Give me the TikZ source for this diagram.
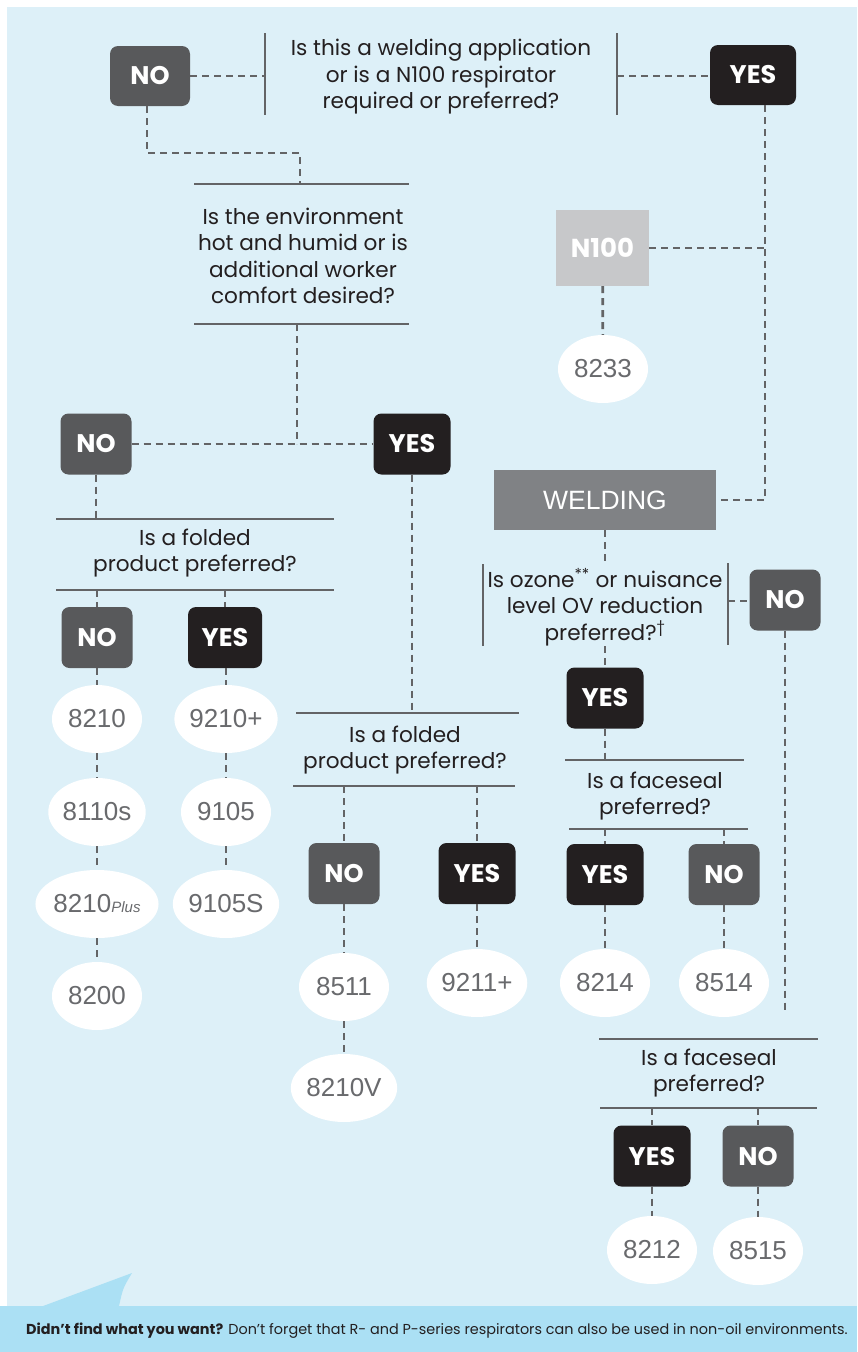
\documentclass[tikz,border=0pt]{standalone}
\usepackage{fontspec}
\setmainfont{Poppins}
\newfontfamily\numfont{Liberation Sans}
\usetikzlibrary{shapes.geometric}
\definecolor{bgblue}{RGB}{221,240,248}
\definecolor{barblue}{RGB}{171,224,244}
\definecolor{nogray}{RGB}{88,89,91}
\definecolor{yesblack}{RGB}{35,31,32}
\definecolor{nlight}{RGB}{199,200,202}
\definecolor{weldgray}{RGB}{128,130,133}
\definecolor{linegray}{RGB}{99,100,102}
\definecolor{numgray}{RGB}{105,106,109}
\tikzset{
  nobox/.style={fill=nogray, rounded corners=8pt, minimum width=71pt, minimum height=61pt,
    text=white, inner sep=0pt, font=\fontsize{25.5}{25.5}\selectfont\bfseries},
  yesbox/.style={nobox, fill=yesblack, minimum width=77pt},
  prod/.style={ellipse, fill=white, minimum width=90pt, minimum height=68pt, inner sep=0pt,
    text=numgray, font=\numfont\fontsize{26}{26}\selectfont},
  qtext/.style={align=center, inner sep=0pt, text=yesblack, font=\fontsize{21.6}{26.5}\selectfont},
  rule/.style={draw=linegray, line width=2.7pt},
  conn/.style={draw=linegray, line width=2.7pt, dash pattern=on 7pt off 5pt}
}
\begin{document}
\begin{tikzpicture}[x=1pt,y=-1pt]
\useasboundingbox (0,0) rectangle (857,1352);
% background
\fill[bgblue] (7,7) rectangle (857,1306);
\fill[barblue] (0,1306) rectangle (857,1352);
\fill[barblue] (0,1322) -- (132,1273) .. controls (123,1288) .. (119,1306) -- (0,1306) -- cycle;

% ---------- top question ----------
\node[qtext] (q1) at (441,77) {Is this a welding application\\or is a N100 respirator\\required or preferred?};
\draw[rule] (265,33) -- (265,115);
\draw[rule] (617,33) -- (617,115);
\coordinate (q1L) at (265,76);
\coordinate (q1R) at (617,76);
\node[nobox, minimum width=80pt, minimum height=60pt] (no1) at (150,76) {NO};
\node[yesbox, minimum width=86pt, minimum height=60pt] (yes1) at (753,75) {YES};
\draw[conn] (no1.east) -- (q1L);
\draw[conn] (q1R) -- (yes1.west |- q1R);

% ---------- left branch ----------
\coordinate (q2a) at (300,153);
\coordinate (q2top) at (300,184);
\draw[conn] ([xshift=-3pt]no1.south) |- (q2a) -- (q2top);
\draw[rule] (194,184) -- (409,184);
\draw[rule] (194,324) -- (409,324);
\node[qtext] (q2) at (303,256) {Is the environment\\hot and humid or is\\additional worker\\comfort desired?};
\coordinate (q2bot) at (297,324);
\coordinate (j2) at (297,444);
\node[nobox] (no2) at (96,444) {NO};
\node[yesbox] (yes2) at (412,444) {YES};
\draw[conn] (q2bot) -- (j2);
\draw[conn] (no2.east) -- (yes2.west);

% folded (left)
\coordinate (q3top) at (96,519);
\draw[conn] (no2.south) -- (q3top);
\draw[rule] (56,519) -- (334,519);
\draw[rule] (56,590) -- (334,590);
\node[qtext] (q3) at (195,553) {Is a folded\\product preferred?};
\node[nobox] (no3) at (97,637.5) {NO};
\node[yesbox, minimum width=74pt] (yes3) at (225,637.5) {YES};
\coordinate (q3n) at (97,590);
\coordinate (q3y) at (225,590);
\draw[conn] (q3n) -- (no3.north);
\draw[conn] (q3y) -- (yes3.north);
\node[prod] (p8210) at (97,719) {8210};
\node[prod] (p8110s) at (97,812) {8110s};
\node[prod] (p8210P) at (97,904) {8210{\fontsize{15}{15}\selectfont\itshape Plus}};
\node[prod] (p8200) at (97,996) {8200};
\node[prod] (p9210) at (226,719) {9210+};
\node[prod] (p9105) at (226,812) {9105};
\node[prod] (p9105S) at (226,904) {9105S};
\draw[conn] (no3) -- (p8210);
\draw[conn] (p8210) -- (p8110s);
\draw[conn] (p8110s) -- (p8210P);
\draw[conn] (p8210P) -- (p8200);
\draw[conn] (yes3.south -| p9210) -- (p9210);
\draw[conn] (p9210) -- (p9105);
\draw[conn] (p9105) -- (p9105S);

% folded (middle)
\coordinate (q4top) at (412,713);
\draw[conn] (yes2.south) -- (q4top);
\draw[rule] (296,713) -- (519,713);
\draw[rule] (293,786) -- (515,786);
\node[qtext] (q4) at (405,750) {Is a folded\\product preferred?};
\node[nobox] (no4) at (344,873.5) {NO};
\node[yesbox] (yes4) at (477,873.5) {YES};
\coordinate (q4n) at (344,786);
\coordinate (q4y) at (477,786);
\draw[conn] (q4n) -- (no4.north);
\draw[conn] (q4y) -- (yes4.north);
\node[prod] (p8511) at (344,987) {8511};
\node[prod] (p9211) at (477,983) {9211+};
\node[prod] (p8210V) at (344,1088) {8210V};
\draw[conn] (no4) -- (p8511);
\draw[conn] (yes4) -- (p9211);
\draw[conn] (p8511) -- (p8210V);

% ---------- right branch ----------
\node[fill=nlight, minimum width=93pt, minimum height=76pt, inner sep=0pt, text=white,
  font=\fontsize{26}{26}\selectfont\bfseries] (n100) at (602.5,248) {N100};
\node[prod] (p8233) at (603,369) {8233};
\draw[conn] (n100) -- (p8233);
\node[fill=weldgray, minimum width=222pt, minimum height=60pt, inner sep=0pt, text=white,
  font=\numfont\fontsize{26.5}{26.5}\selectfont] (weld) at (605,500) {WELDING};
\coordinate (rv) at (765,248);
\draw[conn] ([xshift=12pt]yes1.south) |- (weld.east);
\draw[conn] (n100.east) -- (rv);

% ozone question
\coordinate (q5top) at (605,563);
\draw[conn] (weld.south) -- (q5top);
\node[qtext] (q5) at (605,607) {Is ozone\textsuperscript{**} or nuisance\\level OV reduction\\preferred?\textsuperscript{†}};
\draw[rule] (483,564) -- (483,646);
\draw[rule] (728,563) -- (728,645);
\coordinate (q5R) at (728,601);
\node[nobox] (no5) at (785,600) {NO};
\draw[conn] (q5R) -- (no5.west |- q5R);
\coordinate (no5end) at (785,1013);
\draw[conn] (no5.south) -- (no5end);
\coordinate (q5bot) at (605,646);
\node[yesbox] (yes5) at (605,698) {YES};
\draw[conn] (q5bot) -- (yes5.north);

% faceseal 1
\coordinate (q6top) at (605,760);
\draw[conn] (yes5.south) -- (q6top);
\draw[rule] (565,760) -- (744,760);
\draw[rule] (569,829) -- (748,829);
\node[qtext] (q6) at (655,796) {Is a faceseal\\preferred?};
\node[yesbox] (yes6) at (605,874.5) {YES};
\node[nobox] (no6) at (724,874.5) {NO};
\coordinate (q6y) at (605,829);
\coordinate (q6n) at (724,829);
\draw[conn] (q6y) -- (yes6.north);
\draw[conn] (q6n) -- (no6.north);
\node[prod] (p8214) at (605,983) {8214};
\node[prod] (p8514) at (724,983) {8514};
\draw[conn] (yes6) -- (p8214);
\draw[conn] (no6) -- (p8514);

% faceseal 2
\draw[rule] (599,1039) -- (818,1039);
\draw[rule] (600,1108) -- (817,1108);
\node[qtext] (q7) at (709,1073) {Is a faceseal\\preferred?};
\node[yesbox] (yes7) at (652,1156) {YES};
\node[nobox] (no7) at (758,1156) {NO};
\coordinate (q7y) at (652,1108);
\coordinate (q7n) at (758,1108);
\draw[conn] (q7y) -- (yes7.north);
\draw[conn] (q7n) -- (no7.north);
\node[prod] (p8212) at (652,1250) {8212};
\node[prod] (p8515) at (758,1251) {8515};
\draw[conn] (yes7) -- (p8212);
\draw[conn] (no7) -- (p8515);

% footer
\node[anchor=base, inner sep=0pt, text=yesblack, font=\fontsize{14.4}{14.4}\selectfont] (foot) at (437,1334)
  {{\bfseries Didn’t find what you want?} Don’t forget that R- and P-series respirators can also be used in non-oil environments.};
\end{tikzpicture}
\end{document}
